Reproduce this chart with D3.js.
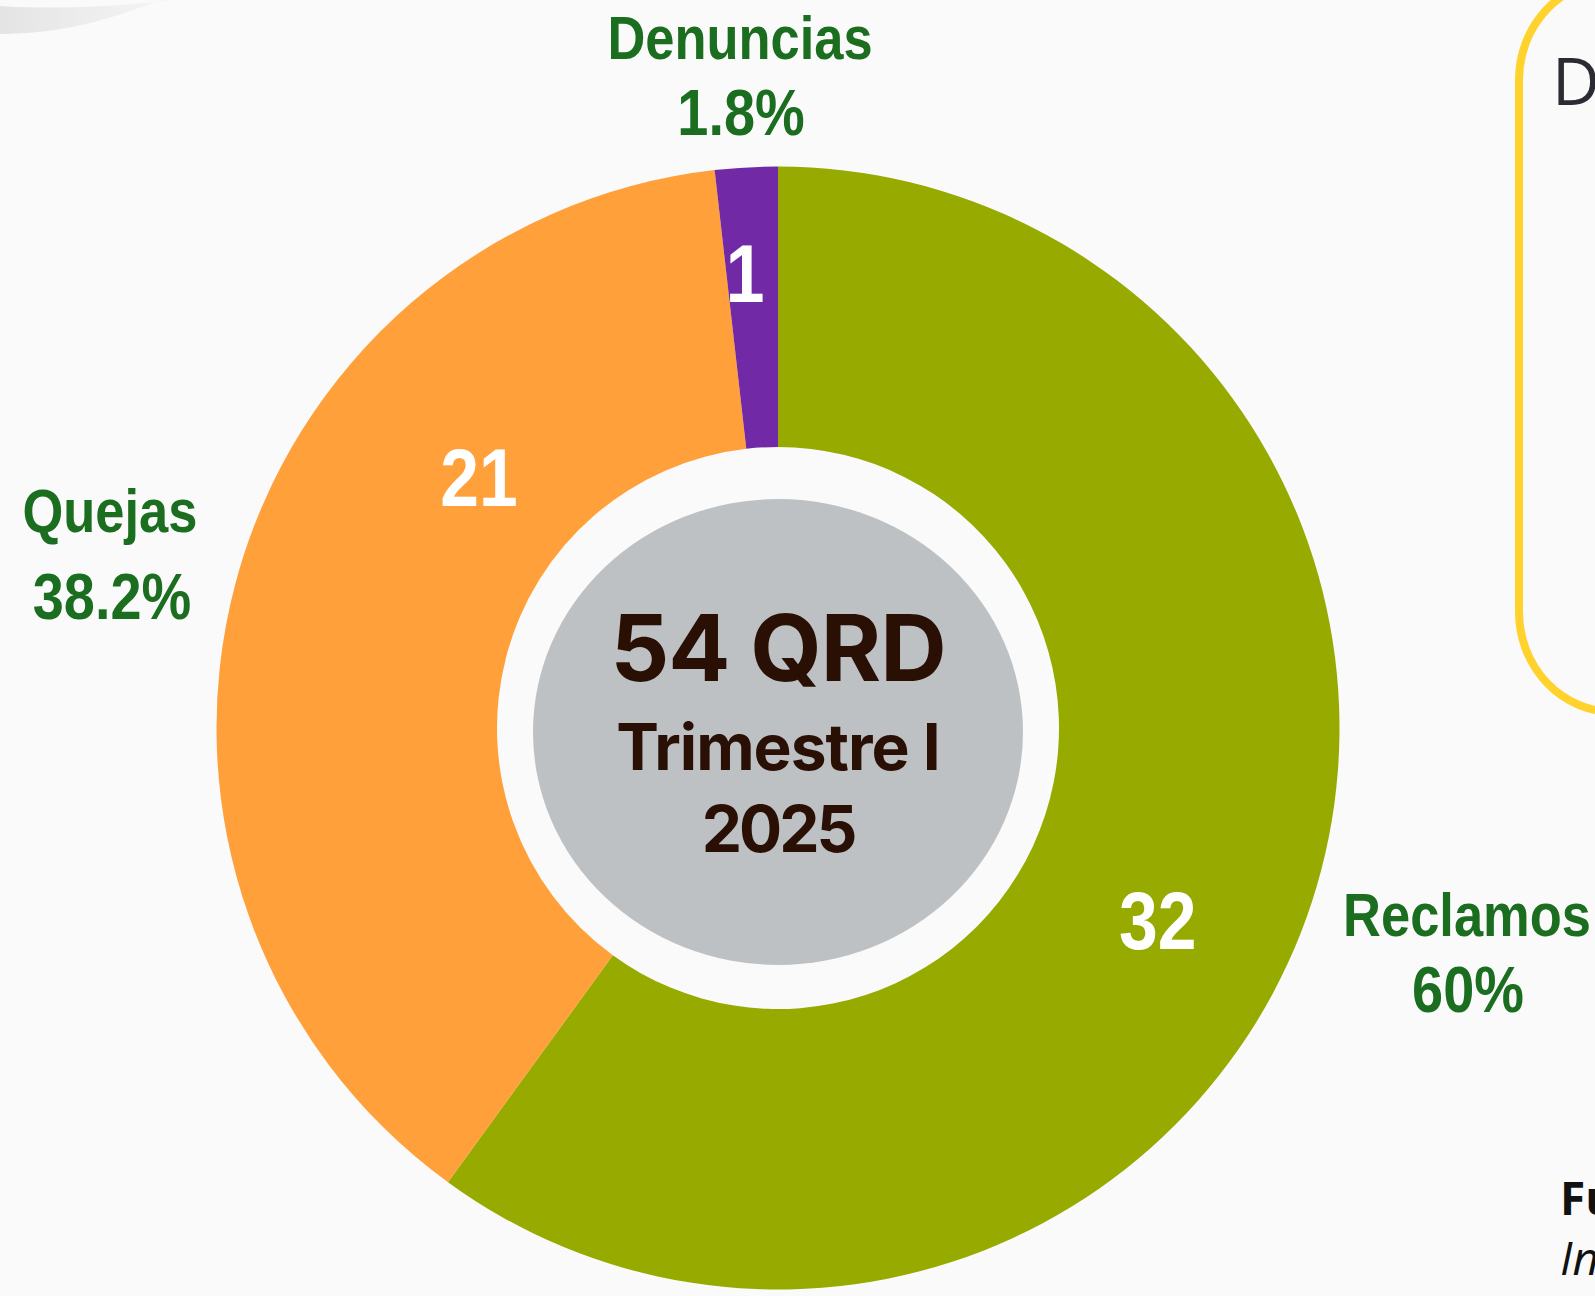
<!DOCTYPE html>
<html>
<head>
<meta charset="utf-8">
<script src="https://cdn.jsdelivr.net/npm/d3@7"></script>
<style>
  html, body { margin: 0; padding: 0; background: #fafafa; overflow: hidden; }
  #chart { width: 1595px; height: 1296px; }
</style>
</head>
<body>
<div id="chart"></div>
<script>
// datos del gráfico (orden horario desde las 12)
const categorias = ["Reclamos", "Quejas", "Denuncias"];
const cantidades = [32, 21, 1];
const porcentajes = [60, 38.2, 1.8];          // el tamaño de cada sector sale de aquí
const etiquetasPct = ["60%", "38.2%", "1.8%"];
const colores = ["#97aa00", "#ffa03a", "#7129a5"];
const totalTexto = ["54 QRD", "Trimestre I", "2025"];

const width = 1595;
const height = 1296;
const cx = 778, cy = 728;
const rExt = 561.5, rInt = 281;

const svg = d3.select("#chart")
    .append("svg")
    .attr("width", width)
    .attr("height", height);

svg.append("rect").attr("width", width).attr("height", height).attr("fill", "#fafafa");

// mancha gris de la esquina
const grad = svg.append("defs").append("linearGradient")
    .attr("id", "gris").attr("x1", 0).attr("x2", 1).attr("y1", 0).attr("y2", 0);
grad.append("stop").attr("offset", "0%").attr("stop-color", "#e4e4e4");
grad.append("stop").attr("offset", "100%").attr("stop-color", "#f6f6f6");
svg.append("path")
    .attr("d", "M0,6 C60,10 120,6 175,0 L160,0 C110,20 60,34 0,34 Z")
    .attr("fill", "url(#gris)");

// recuadro amarillo de la derecha
svg.append("rect")
    .attr("x", 1519).attr("y", -20)
    .attr("width", 240).attr("height", 732)
    .attr("rx", 95).attr("ry", 100)
    .attr("fill", "none")
    .attr("stroke", "#ffd22e")
    .attr("stroke-width", 8);
svg.append("text")
    .attr("x", 1552).attr("y", 105)
    .attr("font-family", "'Open Sans', 'Noto Sans', sans-serif")
    .attr("font-size", 66)
    .attr("fill", "#2b2b33")
    .text("D");

// fuente abajo a la derecha
svg.append("text")
    .attr("x", 1560).attr("y", 1215)
    .attr("font-family", "'Open Sans', 'Noto Sans', sans-serif")
    .attr("font-weight", 700)
    .attr("font-size", 46)
    .attr("fill", "#111")
    .text("Fu");
svg.append("text")
    .attr("x", 1560).attr("y", 1275)
    .attr("font-family", "'Open Sans', 'Noto Sans', sans-serif")
    .attr("font-style", "italic")
    .attr("font-size", 46)
    .attr("fill", "#111")
    .text("In");

const pie = d3.pie().sort(null).value((d) => d);
const arcos = pie(porcentajes);
const arco = d3.arc().innerRadius(rInt).outerRadius(rExt);

const g = svg.append("g").attr("transform", `translate(${cx},${cy})`);

g.selectAll("path.sector")
    .data(arcos)
    .join("path")
    .attr("class", "sector")
    .attr("d", arco)
    .attr("fill", (d, i) => colores[i]);

// posición de los números dentro de cada sector (fracción del ángulo y radio)
const fraccionAngulo = [0.541, 0.684, 0.36];
const radioEtiqueta = [425.7, 390.6, 456.3];
// no hay Arial Narrow: se estrecha Liberation Sans
const narrow = "'Liberation Sans', Arial, sans-serif";
const estrecho = 0.86;

const angulo = (d, i) => d.startAngle + fraccionAngulo[i] * (d.endAngle - d.startAngle);

g.selectAll("text.valor")
    .data(arcos)
    .join("text")
    .attr("class", "valor")
    .attr("transform", (d, i) => `translate(${Math.sin(angulo(d, i)) * radioEtiqueta[i]},${-Math.cos(angulo(d, i)) * radioEtiqueta[i]}) scale(${estrecho},1)`)
    .attr("dy", "0.36em")
    .attr("text-anchor", "middle")
    .attr("font-family", narrow)
    .attr("font-weight", 700)
    .attr("font-size", 81)
    .attr("fill", "#ffffff")
    .text((d, i) => cantidades[i]);

// etiquetas verdes fuera del anillo
const posEtiquetas = [[1467, 936], [110, 532], [740, 59]];
const etiquetas = svg.append("g")
    .attr("font-family", narrow)
    .attr("font-weight", 700)
    .attr("fill", "#1b6e20")
    .attr("text-anchor", "middle");
categorias.forEach((c, i) => {
    const [x, y] = posEtiquetas[i];
    etiquetas.append("text")
        .attr("transform", `translate(${x},${y}) scale(${estrecho},1)`)
        .attr("font-size", 61)
        .text(c);
    etiquetas.append("text")
        .attr("transform", `translate(${x + (i === 1 ? 2 : 1)},${y + (i === 1 ? 87 : 76)}) scale(${estrecho},1)`)
        .attr("font-size", 65)
        .text(etiquetasPct[i]);
});

// centro
g.append("ellipse")
    .attr("cx", 0).attr("cy", 4)
    .attr("rx", 245).attr("ry", 233)
    .attr("fill", "#bdc1c3");

const centro = g.append("g")
    .attr("font-family", "Inter, 'Noto Sans', sans-serif")
    .attr("font-weight", 700)
    .attr("fill", "#2a0f05")
    .attr("text-anchor", "middle");
centro.append("text").attr("y", -47).attr("font-size", 92).attr("letter-spacing", -1).text(totalTexto[0]);
centro.append("text").attr("y", 42).attr("font-size", 64).attr("letter-spacing", -1).text(totalTexto[1]);
centro.append("text").attr("y", 124).attr("font-size", 64).attr("letter-spacing", -3).text(totalTexto[2]);
</script>
</body>
</html>
